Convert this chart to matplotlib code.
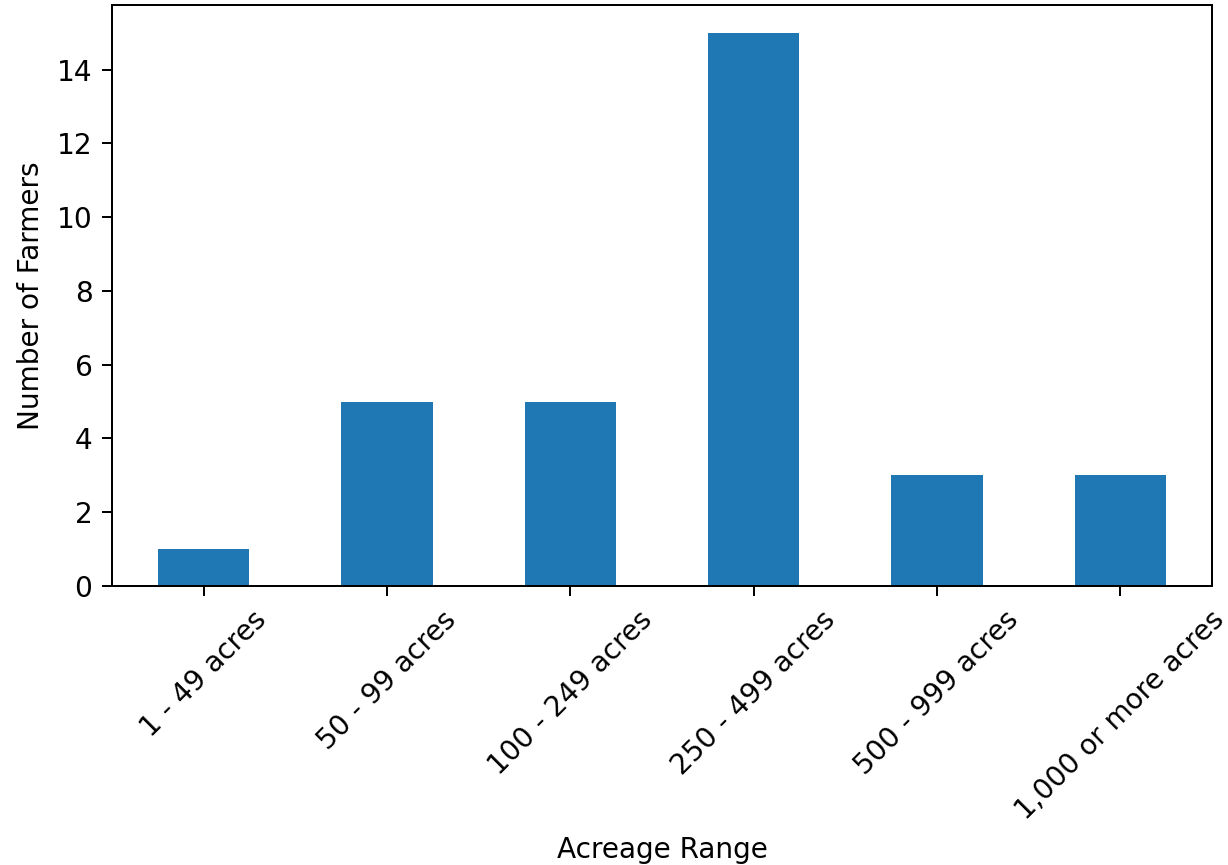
import matplotlib
matplotlib.use("Agg")
import matplotlib.pyplot as plt
import numpy as np

categories = ["1 - 49 acres", "50 - 99 acres", "100 - 249 acres",
              "250 - 499 acres", "500 - 999 acres", "1,000 or more acres"]
farmers = [1, 5, 5, 15, 3, 3]

s = 1.12
plt.rcParams["font.size"] = 10 * s
plt.rcParams["xtick.major.size"] = 3.5 * s
plt.rcParams["ytick.major.size"] = 3.5 * s
plt.rcParams["xtick.major.pad"] = 3.5 * s
plt.rcParams["ytick.major.pad"] = 3.5 * s
plt.rcParams["axes.labelpad"] = 4.0 * s

dpi = 180
fig = plt.figure(figsize=(1228 / dpi, 865 / dpi), dpi=dpi)
ax = fig.add_axes([112 / 1228, 1 - 586 / 865, 1100 / 1228, 581 / 865])

x = np.arange(len(categories))
ax.bar(x, farmers, width=0.5, color="#1f77b4")
ax.set_xlim(-0.5, len(categories) - 0.5)
ax.set_ylim(0, max(farmers) * 1.05)
ax.set_xticks(x)
ax.set_xticklabels(categories, rotation=45)
ax.set_xlabel("Acreage Range")
ax.set_ylabel("Number of Farmers")

fig.savefig("out.png", dpi=dpi)
